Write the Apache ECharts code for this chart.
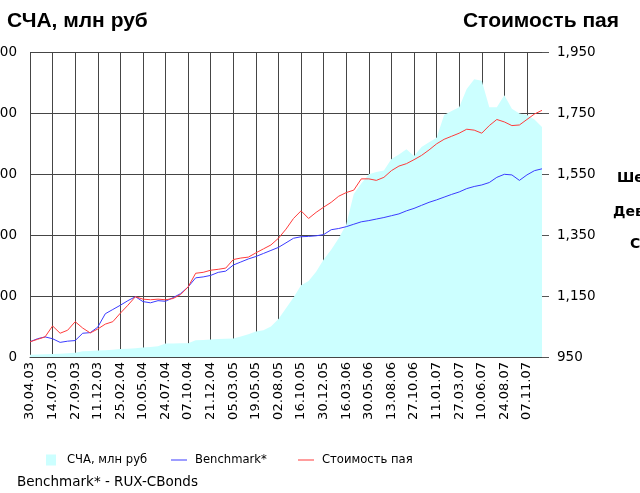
<!DOCTYPE html>
<html>
<head>
<meta charset="utf-8">
<script src="https://cdn.jsdelivr.net/npm/echarts@6/dist/echarts.min.js"></script>
<style>
html, body { margin: 0; padding: 0; background: #fff; }
#chart { width: 640px; height: 493px; }
</style>
</head>
<body>
<div id="chart"></div>
<script>
// подписи оси X, между ними по две промежуточные точки
var tickLabels = ['30.04.03','14.07.03','27.09.03','11.12.03','25.02.04','10.05.04','24.07.04','07.10.04',
	'21.12.04','05.03.05','19.05.05','02.08.05','16.10.05','30.12.05','16.03.06','30.05.06','13.08.06',
	'27.10.06','11.01.07','27.03.07','10.06.07','24.08.07','07.11.07']
var stepDays = 25

// СЧА, млн руб (левая ось)
var scha = [15,17,18,20,22,25,28,38,40,42,
	45,48,52,55,58,62,65,70,88,88,
	90,90,110,112,115,118,120,122,135,150,
	168,175,200,250,320,390,472,500,560,640,
	705,780,870,1070,1140,1200,1215,1225,1300,1330,
	1365,1320,1380,1410,1440,1590,1615,1640,1760,1825,
	1815,1640,1640,1720,1630,1600,1590,1560,1510]

// Benchmark* (правая ось)
var benchmark = [1000,1010,1016,1010,998,1002,1004,1028,1030,1048,
	1092,1106,1120,1135,1148,1132,1128,1135,1133,1145,
	1158,1180,1210,1213,1218,1228,1232,1252,1262,1272,
	1280,1290,1300,1310,1325,1340,1345,1346,1348,1352,
	1368,1372,1378,1386,1394,1398,1403,1408,1414,1420,
	1430,1438,1448,1458,1466,1475,1484,1492,1503,1510,
	1515,1523,1540,1550,1548,1530,1548,1562,1568]

// Стоимость пая (правая ось)
var pay = [1000,1008,1016,1052,1028,1038,1066,1045,1029,1042,
	1058,1066,1094,1120,1148,1140,1138,1140,1138,1142,
	1155,1180,1225,1228,1235,1238,1242,1270,1275,1278,
	1292,1305,1318,1340,1370,1405,1430,1405,1425,1442,
	1458,1478,1490,1498,1535,1535,1530,1540,1562,1577,
	1585,1598,1612,1630,1650,1665,1675,1685,1698,1695,
	1685,1710,1730,1722,1710,1712,1730,1748,1760]

var rightTicks = [950, 1150, 1350, 1550, 1750, 1950]

//категории: подпись + две промежуточные даты
function fmtDate(d) {
	const day = ('0' + d.getUTCDate()).slice(-2)
	const month = ('0' + (d.getUTCMonth() + 1)).slice(-2)
	const year = ('' + d.getUTCFullYear()).slice(-2)
	return `${day}.${month}.${year}`
}
var categories = []
for (let i = 0; i < scha.length; i++) {
	const k = Math.floor(i / 3)
	const lab = tickLabels[Math.min(k, tickLabels.length - 1)]
	const p = lab.split('.')
	const base = Date.UTC(2000 + Number(p[2]), Number(p[1]) - 1, Number(p[0]))
	const off = i - Math.min(k, tickLabels.length - 1) * 3
	categories.push(off == 0 ? lab : fmtDate(new Date(base + off * stepDays * 86400000)))
}

function withComma(v) {
	return String(v).replace(/\B(?=(\d{3})+(?!\d))/g, ',')
}

var font = 'DejaVu Sans'
var gridColor = '#454545'
var legendText = { fontFamily: font, fontSize: 11.6, color: '#000' }

var option = {
	animation: false,
	title: [{
		text: 'СЧА, млн руб',
		left: 7, top: 11, padding: 0,
		textStyle: { fontFamily: 'Liberation Sans', fontWeight: 'bold', fontSize: 21, color: '#000' }
	}, {
		text: 'Стоимость пая',
		right: 21, top: 11, padding: 0,
		textStyle: { fontFamily: 'Liberation Sans', fontWeight: 'bold', fontSize: 21, color: '#000' }
	}],
	grid: { left: 30, right: 98, top: 52.5, bottom: 136, containLabel: false, outerBoundsMode: 'none' },
	legend: [{
		left: 46, top: 454, padding: 0, itemWidth: 16, itemHeight: 11,
		textStyle: legendText,
		data: [{ name: 'СЧА, млн руб', icon: 'path://M0,0L0.01,0L0,0.01Z M16,11L15.99,11L16,10.99Z M0,0H10V11H0Z' }]
	}, {
		left: 171, top: 454, padding: 0, itemWidth: 16, itemHeight: 1,
		textStyle: Object.assign({ padding: [0, 0, 0, 3] }, legendText),
		data: [{ name: 'Benchmark*', icon: 'rect' }]
	}, {
		left: 298, top: 454, padding: 0, itemWidth: 16, itemHeight: 1,
		textStyle: Object.assign({ padding: [0, 0, 0, 3] }, legendText),
		data: [{ name: 'Стоимость пая', icon: 'rect' }]
	}],
	xAxis: {
		type: 'category',
		data: categories,
		boundaryGap: false,
		axisLine: { show: true, lineStyle: { color: gridColor } },
		axisTick: { show: false },
		axisLabel: {
			interval: 2, rotate: 90, margin: 5,
			fontFamily: font, fontSize: 13, color: '#000'
		},
		splitLine: { show: true, interval: 2, lineStyle: { color: gridColor, width: 1 } }
	},
	yAxis: [{
		type: 'value',
		min: 0, max: 2000, interval: 400,
		axisLine: { show: true, lineStyle: { color: gridColor } },
		axisTick: { show: false },
		axisLabel: {
			margin: 13, fontFamily: font, fontSize: 13.5, color: '#000',
			formatter: function (v) { return withComma(v) }
		},
		splitLine: { show: true, lineStyle: { color: gridColor, width: 1 } }
	}, {
		type: 'value',
		position: 'right',
		min: 950, max: 1950,
		axisLine: { show: false },
		axisTick: { show: true, length: 7, customValues: rightTicks, lineStyle: { color: '#555' } },
		axisLabel: {
			margin: 15, fontFamily: font, fontSize: 13.5, color: '#000',
			customValues: rightTicks,
			formatter: function (v) { return withComma(v) }
		},
		splitLine: { show: false }
	}],
	graphic: [
		{ type: 'text', left: 17, top: 475, style: { text: 'Benchmark* - RUX-CBonds', font: '13.5px "DejaVu Sans"', fill: '#000' } },
		{ type: 'text', left: 617, top: 171, style: { text: 'Ше', font: 'bold 14px "DejaVu Sans"', fill: '#000' } },
		{ type: 'text', left: 613, top: 205, style: { text: 'Дев', font: 'bold 14px "DejaVu Sans"', fill: '#000' } },
		{ type: 'text', left: 630, top: 237, style: { text: 'С', font: 'bold 14px "DejaVu Sans"', fill: '#000' } }
	],
	series: [{
		name: 'СЧА, млн руб',
		type: 'line',
		yAxisIndex: 0,
		data: scha,
		symbol: 'none',
		lineStyle: { width: 0 },
		itemStyle: { color: '#ccffff' },
		areaStyle: { color: '#ccffff', opacity: 1 }
	}, {
		name: 'Benchmark*',
		type: 'line',
		yAxisIndex: 1,
		data: benchmark,
		symbol: 'none',
		itemStyle: { color: '#3b3bff' },
		lineStyle: { color: '#3b3bff', width: 1 }
	}, {
		name: 'Стоимость пая',
		type: 'line',
		yAxisIndex: 1,
		data: pay,
		symbol: 'none',
		itemStyle: { color: '#ff3b3b' },
		lineStyle: { color: '#ff3b3b', width: 1 }
	}]
}

var chart = echarts.init(document.getElementById('chart'))
chart.setOption(option)
</script>
</body>
</html>
